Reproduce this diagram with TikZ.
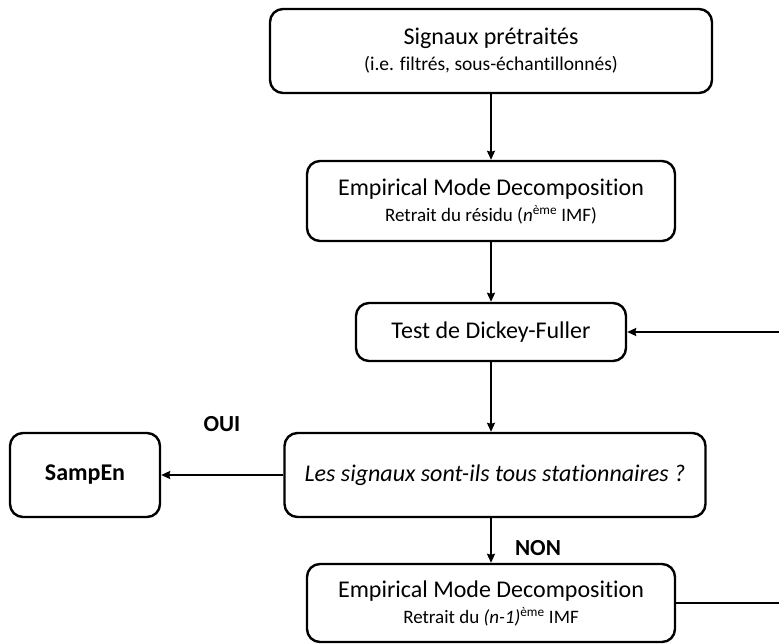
\documentclass[tikz,border=0pt]{standalone}
\usepackage{fontspec}
\setmainfont{Carlito}[Ligatures=NoCommon]
\usetikzlibrary{arrows.meta}
\begin{document}
\begin{tikzpicture}[x=1pt,y=-1pt,
  box/.style={draw=black,line width=2.4pt,rounded corners=13pt,align=center,inner sep=0pt,fill=white,font=\fontsize{24}{26}\selectfont},
  arr/.style={line width=2pt,-{Stealth[length=9pt,width=8pt,inset=1pt]}},
  lab/.style={font=\fontsize{23}{26}\selectfont\bfseries}]
\useasboundingbox (0,0) rectangle (779,643);
\clip (0,0) rectangle (779,643);
\fill[white] (0,0) rectangle (779,643);
\node[box,minimum width=442pt,minimum height=84pt] (top) at (491,51)
  {Signaux prétraités\\{\fontsize{19.5}{26}\selectfont (i.e. filtrés, sous-échantillonnés)}};
\node[box,minimum width=368pt,minimum height=80pt] (emd1) at (491,201)
  {Empirical Mode Decomposition\\{\fontsize{19}{26}\selectfont Retrait du résidu (\textit{n}\textsuperscript{ème} IMF)}};
\node[box,minimum width=270pt,minimum height=58pt] (df) at (491,332) {Test de Dickey-Fuller};
\node[box,minimum width=421pt,minimum height=84pt] (q) at (495,475) {\textit{Les signaux sont-ils tous stationnaires ?}};
\node[box,minimum width=150pt,minimum height=84pt,font=\fontsize{24}{26}\selectfont\bfseries] (samp) at (85,475) {SampEn};
\node[box,minimum width=368pt,minimum height=78pt] (emd2) at (491,603)
  {Empirical Mode Decomposition\\{\fontsize{19}{26}\selectfont Retrait du \textit{(n-1)}\textsuperscript{ème} IMF}};
\node[lab] (oui) at (222,424) {OUI};
\node[lab] (non) at (538,548) {NON};
\coordinate (fb) at (800,332);
\draw[arr] (top) -- (emd1);
\draw[arr] (emd1) -- (df);
\draw[arr] (df.south) -- (df.south |- q.north);
\draw[arr] (q.west) -- (samp.east);
\draw[arr] (df.south |- q.south) -- (df.south |- emd2.north);
\draw[arr] (emd2.east) -| (fb) -- (df.east);
\end{tikzpicture}
\end{document}
